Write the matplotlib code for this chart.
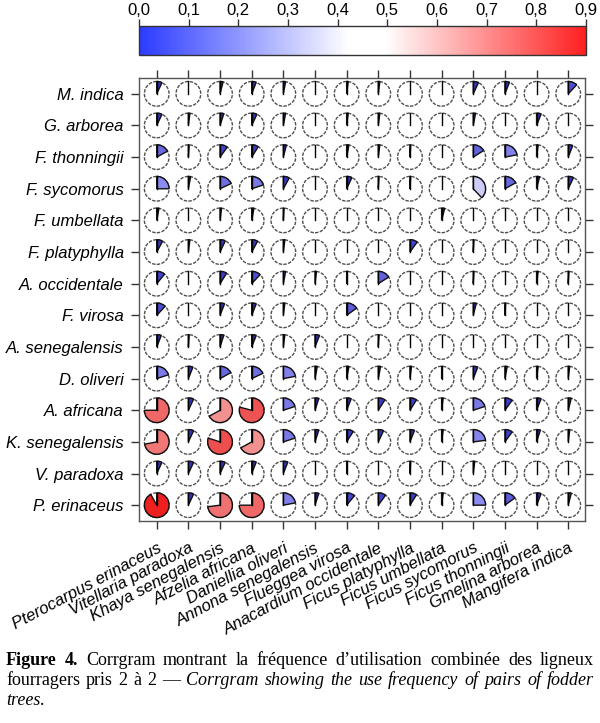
import numpy as np
import matplotlib
matplotlib.use("Agg")
import matplotlib.pyplot as plt
from matplotlib.patches import Circle, Wedge
from matplotlib.colors import LinearSegmentedColormap, Normalize
from matplotlib.cm import ScalarMappable

# species, rows top -> bottom, columns left -> right
row_labels = ["M. indica", "G. arborea", "F. thonningii", "F. sycomorus",
              "F. umbellata", "F. platyphylla", "A. occidentale", "F. virosa",
              "A. senegalensis", "D. oliveri", "A. africana", "K. senegalensis",
              "V. paradoxa", "P. erinaceus"]
col_labels = ["Pterocarpus erinaceus", "Vitellaria paradoxa", "Khaya senegalensis",
              "Afzelia africana", "Daniellia oliveri", "Annona senegalensis",
              "Flueggea virosa", "Anacardium occidentale", "Ficus platyphylla",
              "Ficus umbellata", "Ficus sycomorus", "Ficus thonningii",
              "Gmelina arborea", "Mangifera indica"]

# frequency of combined use
freq = [
    [0.07, 0.00, 0.04, 0.06, 0.03, 0.00, 0.02, 0.02, 0.00, 0.00, 0.07, 0.06, 0.00, 0.12],
    [0.07, 0.02, 0.05, 0.07, 0.03, 0.00, 0.02, 0.02, 0.00, 0.00, 0.03, 0.00, 0.06, 0.00],
    [0.17, 0.01, 0.10, 0.09, 0.04, 0.00, 0.03, 0.02, 0.01, 0.00, 0.16, 0.22, 0.02, 0.06],
    [0.25, 0.03, 0.18, 0.20, 0.08, 0.00, 0.07, 0.01, 0.01, 0.00, 0.38, 0.17, 0.04, 0.07],
    [0.03, 0.00, 0.02, 0.03, 0.01, 0.00, 0.00, 0.00, 0.00, 0.04, 0.00, 0.00, 0.00, 0.00],
    [0.08, 0.02, 0.07, 0.08, 0.02, 0.00, 0.00, 0.00, 0.10, 0.00, 0.01, 0.00, 0.00, 0.00],
    [0.11, 0.00, 0.09, 0.12, 0.03, 0.02, 0.01, 0.16, 0.00, 0.00, 0.01, 0.00, 0.02, 0.01],
    [0.12, 0.00, 0.06, 0.06, 0.02, 0.00, 0.15, 0.00, 0.00, 0.00, 0.04, 0.01, 0.00, 0.00],
    [0.06, 0.01, 0.05, 0.06, 0.02, 0.06, 0.00, 0.01, 0.00, 0.00, 0.00, 0.00, 0.00, 0.00],
    [0.20, 0.06, 0.17, 0.18, 0.22, 0.03, 0.03, 0.03, 0.02, 0.01, 0.06, 0.03, 0.02, 0.02],
    [0.75, 0.07, 0.67, 0.79, 0.20, 0.05, 0.06, 0.09, 0.09, 0.02, 0.20, 0.10, 0.06, 0.04],
    [0.72, 0.07, 0.80, 0.67, 0.20, 0.05, 0.09, 0.07, 0.06, 0.02, 0.23, 0.10, 0.05, 0.02],
    [0.07, 0.07, 0.07, 0.06, 0.06, 0.00, 0.01, 0.00, 0.01, 0.00, 0.02, 0.00, 0.00, 0.00],
    [0.92, 0.07, 0.73, 0.75, 0.22, 0.05, 0.11, 0.10, 0.09, 0.02, 0.25, 0.15, 0.06, 0.04],
]

cbar_ticks = np.arange(0, 0.91, 0.1)

vmax = 0.9
norm = Normalize(0, vmax)
# colour key as printed
cmap = LinearSegmentedColormap.from_list(
    "key", [(0.0, "#2b3bff"), (0.47, "#ffffff"), (0.55, "#ffffff"), (1.0, "#ff2020")])
# pies come out darker than the key in the print
pie_cmap = LinearSegmentedColormap.from_list(
    "pies", [(0.0, "#1c1c80"), (0.1 / vmax, "#4040d0"), (0.2 / vmax, "#7a7ae8"),
             (0.25 / vmax, "#8c8cf0"), (0.37 / vmax, "#c4c4f6"), (0.45 / vmax, "#ffffff"),
             (0.5 / vmax, "#ffffff"), (0.64 / vmax, "#f4a0a0"), (0.78 / vmax, "#ee5858"),
             (1.0, "#ee2020")])

W, H = 600, 723
fig = plt.figure(figsize=(6, 7.23), dpi=100)
lab_font = "Liberation Sans"

# main corrgram
ax = fig.add_axes([139 / W, 1 - 521 / H, 446 / W, 443 / H])
n = len(row_labels)
r = 0.39
for i in range(n):
    y = n - 1 - i
    for j in range(len(col_labels)):
        v = freq[i][j]
        ax.add_patch(Circle((j, y), r, facecolor="white", edgecolor="#505050", lw=1.0,
                            linestyle=(0, (2.5, 1.0))))
        if v > 0:
            ax.add_patch(Wedge((j, y), r, 90 - 360 * v, 90, facecolor=pie_cmap(norm(v)),
                               edgecolor="#111111", lw=1.0))
        ax.plot([j, j], [y, y + r], color="black", lw=1.0)

ax.set_xlim(-0.56, 13.53)
ax.set_ylim(-0.5, 13.5)
ax.set_xticks(range(len(col_labels)))
ax.set_xticklabels(col_labels, rotation=28, ha="right", va="top", rotation_mode="anchor",
                   fontstyle="italic", fontsize=12, family=lab_font)
ax.set_yticks(range(n))
ax.set_yticklabels(row_labels[::-1], fontstyle="italic", fontsize=12, family=lab_font)
ax.tick_params(direction="out", length=6, width=1, color="#333333",
               top=True, right=True, pad=5)
ax.tick_params(axis="x", pad=8)
for s in ax.spines.values():
    s.set_color("#555555")
    s.set_linewidth(1.0)

# colour bar
cax = fig.add_axes([139 / W, 1 - 55 / H, 447 / W, 29 / H])
cb = fig.colorbar(ScalarMappable(norm=norm, cmap=cmap), cax=cax, orientation="horizontal")
cb.set_ticks(cbar_ticks)
cb.set_ticklabels([f"{t:.1f}".replace(".", ",") for t in cbar_ticks])
cax.xaxis.set_ticks_position("top")
cax.tick_params(direction="out", length=5, width=1, color="#333333", pad=1, labelsize=12)
for lab in cax.get_xticklabels():
    lab.set_family(lab_font)
cb.outline.set_edgecolor("#333333")
cb.outline.set_linewidth(1.0)

# caption, justified like the journal layout
line1 = [("Figure", "bold", "normal"), ("4.", "bold", "normal"), ("Corrgram", "normal", "normal"),
         ("montrant", "normal", "normal"), ("la", "normal", "normal"),
         ("fréquence", "normal", "normal"), ("d’utilisation", "normal", "normal"),
         ("combinée", "normal", "normal"), ("des", "normal", "normal"),
         ("ligneux", "normal", "normal")]
line2 = [(w, "normal", "normal") for w in ["fourragers", "pris", "2", "à", "2", "—"]] + \
        [(w, "normal", "italic") for w in ["Corrgram", "showing", "the", "use", "frequency",
                                           "of", "pairs", "of", "fodder"]]
line3 = [("trees.", "normal", "italic")]

renderer = fig.canvas.get_renderer()


def put_line(parts, base, justify=True):
    texts = [fig.text(0, 1 - base / H, w, family="Liberation Serif", fontsize=13,
                      fontweight=wt, fontstyle=st, va="baseline") for w, wt, st in parts]
    widths = [t.get_window_extent(renderer).width for t in texts]
    if justify and len(texts) > 1:
        gap = (588 - sum(widths)) / (len(texts) - 1)
    else:
        gap = 4
    x = 6
    for t, w in zip(texts, widths):
        t.set_x(x / W)
        x += w + gap


put_line(line1, 665)
put_line(line2, 685)
put_line(line3, 705, justify=False)

fig.savefig("out.png", dpi=100)
